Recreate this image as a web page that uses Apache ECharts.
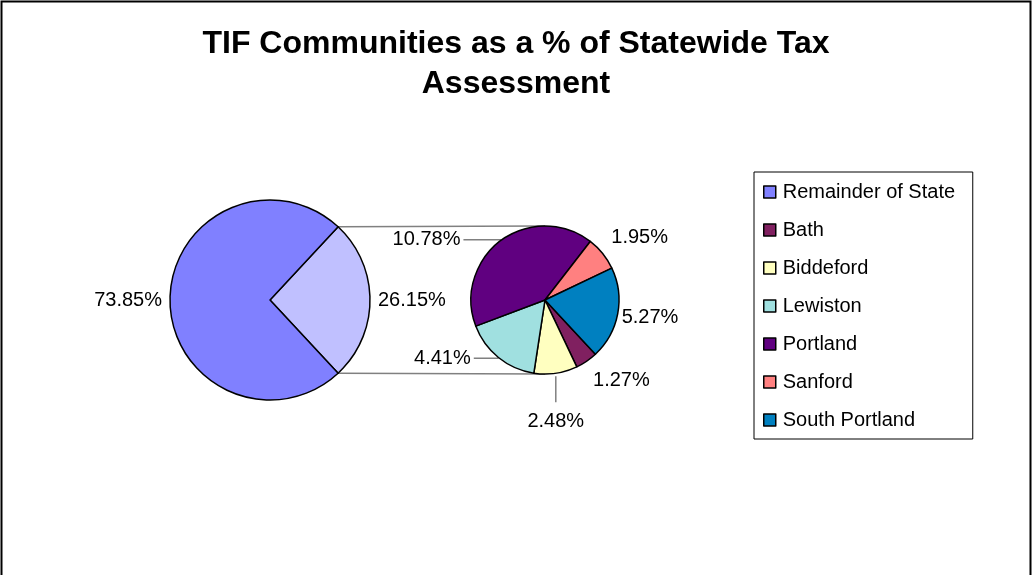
<!DOCTYPE html>
<html>
<head>
<meta charset="utf-8">
<script src="https://cdn.jsdelivr.net/npm/echarts@6/dist/echarts.min.js"></script>
<style>
  html, body { margin: 0; padding: 0; background: #fff; }
  #chart { width: 1032px; height: 575px; }
</style>
</head>
<body>
<div id="chart"></div>
<script>
// ---- Data ----
const titleText = 'TIF Communities as a % of Statewide Tax\nAssessment';
const mainNames = ['Other', 'Remainder of State'];
const mainValues = [26.15, 73.85];
const subNames = ['Bath', 'Biddeford', 'Lewiston', 'Portland', 'Sanford', 'South Portland'];
const subValues = [1.27, 2.48, 4.41, 10.78, 1.95, 5.27];
const legendNames = ['Remainder of State', 'Bath', 'Biddeford', 'Lewiston', 'Portland', 'Sanford', 'South Portland'];

// ---- Styles / layout ----
const colors = {
  'Remainder of State': '#8080FF',
  'Other': '#C0C0FF',
  'Bath': '#802060',
  'Biddeford': '#FFFFC0',
  'Lewiston': '#A0E0E0',
  'Portland': '#600080',
  'Sanford': '#FF8080',
  'South Portland': '#0080C0'
};
const FONT = '"Liberation Sans", Arial, sans-serif';
const mainC = [270, 300], mainR = 100;
const subC = [545, 300], subR = 74;

const mainTotal = mainValues.reduce((a, b) => a + b, 0);
const halfAngle = mainValues[0] / mainTotal * 180; // 'Other' slice centred on the right
const subStart = -halfAngle;

// per-slice label settings for secondary pie: length, length2, show line, label nudge
const subLabelCfg = {
  'Bath':           { len: 15, len2: 0,  line: false, dx: -5, dy: 7 },
  'Biddeford':      { len: 29, len2: 0,  line: true,  dx: 0,  dy: 9 },
  'Lewiston':       { len: 1,  len2: 24, line: true,  dx: 0,  dy: 0 },
  'Portland':       { len: 1,  len2: 37, line: true,  dx: 0,  dy: 0 },
  'Sanford':        { len: 15, len2: 0,  line: false, dx: -6, dy: -7 },
  'South Portland': { len: 3,  len2: 0,  line: false, dx: -2, dy: 3 }
};

const chart = echarts.init(document.getElementById('chart'), null, { renderer: 'canvas' });

const rad = halfAngle * Math.PI / 180;
const pTop = [mainC[0] + mainR * Math.cos(rad), mainC[1] - mainR * Math.sin(rad)];
const pBot = [mainC[0] + mainR * Math.cos(rad), mainC[1] + mainR * Math.sin(rad)];

const option = {
  backgroundColor: '#fff',
  animation: false,
  title: {
    text: titleText,
    left: 'center',
    top: 19,
    textStyle: {
      fontFamily: '"Liberation Sans Narrow", "Arial Narrow", "Liberation Sans", Arial, sans-serif',
      fontWeight: 'bold',
      fontSize: 32,
      lineHeight: 40,
      color: '#000'
    }
  },
  legend: {
    data: legendNames,
    orient: 'vertical',
    left: 754,
    top: 172,
    padding: [10, 10, 9, 9],
    itemGap: 18,
    itemWidth: 12,
    itemHeight: 12,
    icon: 'rect',
    borderColor: '#000',
    borderWidth: 1,
    selectedMode: false,
    itemStyle: { borderColor: '#000', borderWidth: 1.5 },
    textStyle: { fontFamily: FONT, fontSize: 20, lineHeight: 20, color: '#000', padding: [0, 0, 0, 2], width: 180 }
  },
  graphic: [
    { type: 'rect', z: 0, shape: { x: 1.5, y: 1.5, width: 1029, height: 600 }, style: { fill: null, stroke: '#000', lineWidth: 2 } },
    { type: 'line', z: 1, shape: { x1: pTop[0], y1: pTop[1], x2: subC[0], y2: subC[1] - subR }, style: { stroke: '#808080', lineWidth: 1.5 } },
    { type: 'line', z: 1, shape: { x1: pBot[0], y1: pBot[1], x2: subC[0], y2: subC[1] + subR }, style: { stroke: '#808080', lineWidth: 1.5 } }
  ],
  series: [
    {
      type: 'pie',
      z: 3,
      center: mainC,
      radius: mainR,
      startAngle: halfAngle,
      clockwise: true,
      avoidLabelOverlap: false,
      label: {
        show: true,
        position: 'outside',
        formatter: p => p.value.toFixed(2) + '%',
        fontFamily: FONT, fontSize: 20, color: '#000',
        distanceToLabelLine: 5
      },
      labelLine: { show: false, length: 3, length2: 0 },
      itemStyle: { borderColor: '#000', borderWidth: 1.5 },
      emphasis: { disabled: true },
      data: mainNames.map((n, i) => ({ name: n, value: mainValues[i], itemStyle: { color: colors[n] } }))
    },
    {
      type: 'pie',
      z: 3,
      center: subC,
      radius: subR,
      startAngle: subStart,
      clockwise: true,
      avoidLabelOverlap: false,
      label: {
        show: true,
        position: 'outside',
        formatter: p => p.value.toFixed(2) + '%',
        fontFamily: FONT, fontSize: 20, color: '#000',
        distanceToLabelLine: 3
      },
      itemStyle: { borderColor: '#000', borderWidth: 1.5 },
      emphasis: { disabled: true },
      labelLayout: function (params) {
        const name = subNames[params.dataIndex];
        const cfg = subLabelCfg[name];
        if (name === 'Biddeford' && params.labelLinePoints) {
          // vertical leader line straight down from the slice edge
          const start = params.labelLinePoints[0];
          const endY = start[1] + cfg.len;
          return {
            x: start[0], y: endY + cfg.dy,
            align: 'center', verticalAlign: 'top',
            labelLinePoints: [[start[0], start[1] + 3], [start[0], endY], [start[0], endY]]
          };
        }
        return { dx: cfg.dx, dy: cfg.dy };
      },
      data: subNames.map((n, i) => ({
        name: n,
        value: subValues[i],
        itemStyle: { color: colors[n] },
        labelLine: {
          show: subLabelCfg[n].line,
          length: subLabelCfg[n].len,
          length2: subLabelCfg[n].len2,
          lineStyle: { color: '#808080', width: 1.5 }
        }
      }))
    }
  ]
};
chart.setOption(option);
</script>
</body>
</html>
